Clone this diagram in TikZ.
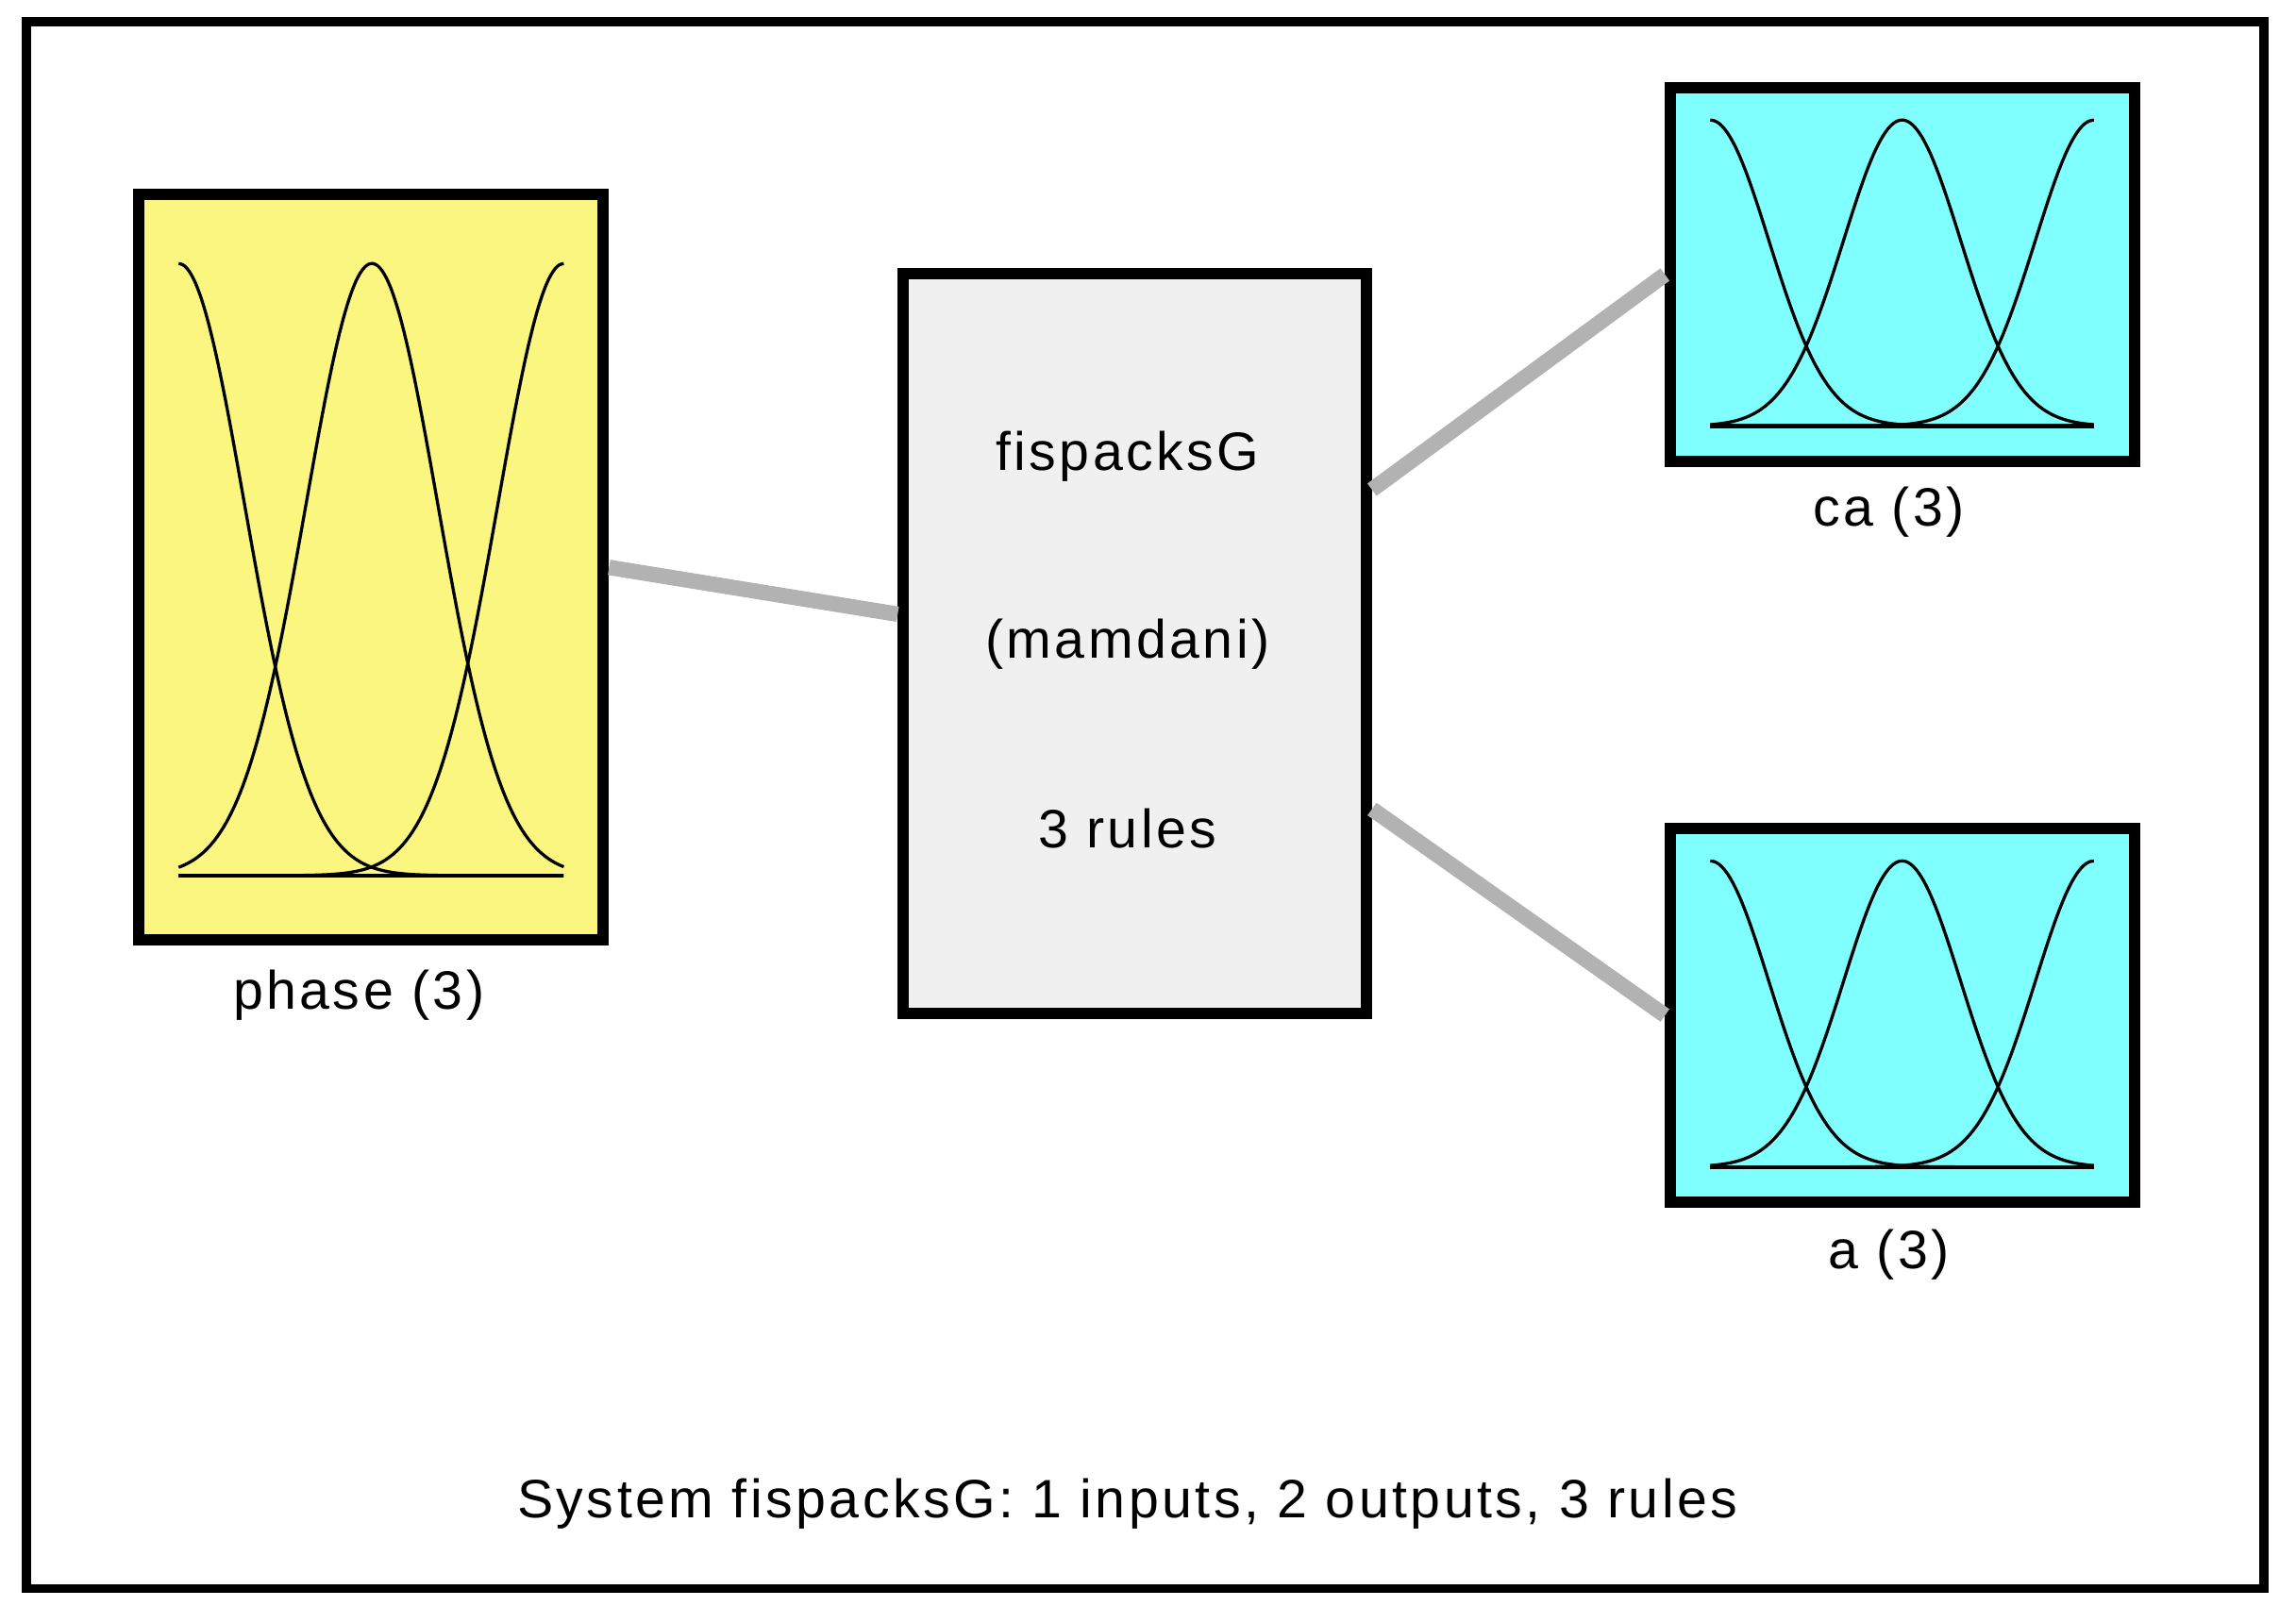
\documentclass[tikz,border=0pt]{standalone}
\usepackage{fontspec}
\setmainfont{Liberation Sans}
\begin{document}
\begin{tikzpicture}[x=0.01cm,y=-0.01cm,
  box/.style={draw=black,line width=2.2pt,inner sep=0pt},
  lbl/.style={font=\fontsize{10.5}{12}\selectfont\addfontfeatures{LetterSpace=6}},
  conn/.style={draw=black!30,line width=3pt},
  mf/.style={line width=0.6pt,smooth,samples=90}]
\useasboundingbox (0,0) rectangle (1568,1108);
\draw[line width=1.8pt] (18,15) rectangle (1546,1085);
\node[box,fill={rgb,255:red,250;green,246;blue,128},minimum width=3.17cm,minimum height=5.09cm] (phase) at (253.5,387.5) {};
\node[box,fill={rgb,255:red,240;green,240;blue,240},minimum width=3.16cm,minimum height=5.05cm] (fis) at (775,439.5) {};
\node[box,fill={rgb,255:red,128;green,255;blue,255},minimum width=3.17cm,minimum height=2.55cm] (ca) at (1299.5,187.5) {};
\node[box,fill={rgb,255:red,128;green,255;blue,255},minimum width=3.17cm,minimum height=2.55cm] (a) at (1299.5,693.5) {};
\node[lbl] (l1) at (770,312) {fispacksG};
\node[lbl] (l2) at (770,440) {(mamdani)};
\node[lbl] (l3) at (770,566) {3 rules};
\node[lbl] (lp) at (245,680) {phase (3)};
\node[lbl] (lc) at (1290,350) {ca (3)};
\node[lbl] (la) at (1290,857) {a (3)};
\node[lbl] (sys) at (770,1027) {System fispacksG: 1 inputs, 2 outputs, 3 rules};
\draw[conn] (phase.east) -- ([yshift=0.2cm]fis.west);
\draw[conn] ([yshift=1.05cm]fis.east) -- (ca.west);
\draw[conn] ([yshift=-1.13cm]fis.east) -- (a.west);
% membership functions
\foreach \c in {122,254,385}
  \draw[mf,domain=122:385] plot (\x,{598-418*exp(-0.5*((\x-\c)/45)^2)});
\draw[line width=0.8pt] (122,598) -- (385,598);
\foreach \yo in {0,506}{
  \foreach \c in {1168,1299,1430}
    \draw[mf,domain=1168:1430] plot (\x,{291+\yo-209*exp(-0.5*((\x-\c)/40)^2)});
  \draw[line width=0.8pt] (1168,291+\yo) -- (1430,291+\yo);
}
\end{tikzpicture}
\end{document}
